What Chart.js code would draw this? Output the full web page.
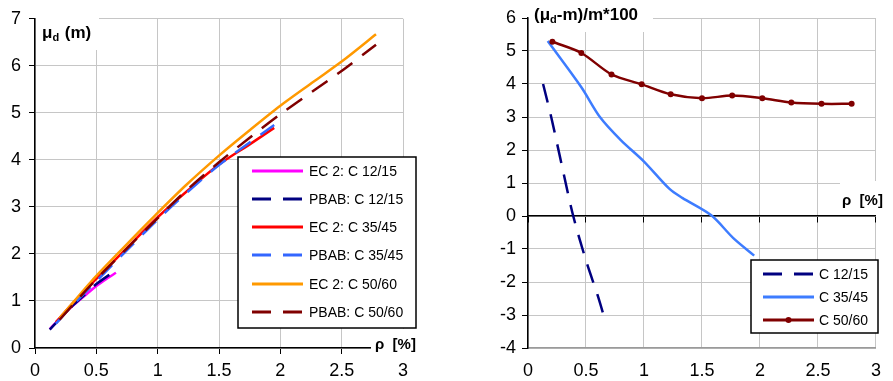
<!DOCTYPE html>
<html><head><meta charset="utf-8">
<script src="https://cdn.jsdelivr.net/npm/chart.js@4"></script>
<style>
html,body{margin:0;padding:0;background:#fff;width:893px;height:381px;overflow:hidden;}
#c1{position:absolute;left:0;top:0;}
#c2{position:absolute;left:440px;top:0;}
</style></head><body>
<canvas id="c1" width="440" height="381"></canvas>
<canvas id="c2" width="453" height="381"></canvas>
<script>
// ---- Left chart data: mu_d (m) vs rho [%] ----
const rhoC12 = [0.12, 0.2, 0.3, 0.4, 0.5, 0.6, 0.66];
const ec2C12 = [0.40, 0.62, 0.88, 1.10, 1.32, 1.50, 1.60];
const rhoPbabC12 = [0.12, 0.2, 0.3, 0.4, 0.5, 0.62];
const pbabC12 = [0.39, 0.61, 0.88, 1.12, 1.36, 1.58];

const rhoC35 = [0.17, 0.3, 0.5, 0.75, 1.0, 1.25, 1.5, 1.75, 1.95];
const ec2C35 = [0.55, 0.93, 1.47, 2.13, 2.78, 3.36, 3.90, 4.33, 4.68];
const pbabC35 = [0.52, 0.89, 1.42, 2.08, 2.73, 3.33, 3.89, 4.37, 4.74];

const rhoC50 = [0.2, 0.46, 0.72, 0.98, 1.23, 1.5, 1.75, 2.0, 2.27, 2.53, 2.78];
const ec2C50 = [0.63, 1.42, 2.13, 2.82, 3.46, 4.09, 4.63, 5.15, 5.66, 6.15, 6.67];
const pbabC50 = [0.60, 1.35, 2.04, 2.71, 3.34, 3.95, 4.47, 4.97, 5.47, 5.95, 6.45];

// ---- Right chart data: (mu_d - m)/m*100 vs rho [%] ----
const rhoD12 = [0.13, 0.2, 0.3, 0.39, 0.5, 0.6, 0.66];
const dev12 = [4.0, 3.0, 1.4, 0.0, -1.35, -2.4, -3.1];
const rhoD35 = [0.17, 0.46, 0.62, 0.8, 1.0, 1.22, 1.33, 1.58, 1.77, 1.95];
const dev35 = [5.3, 3.9, 3.0, 2.3, 1.65, 0.82, 0.55, 0.02, -0.67, -1.2];
const rhoD50 = [0.21, 0.46, 0.72, 0.98, 1.23, 1.5, 1.76, 2.02, 2.27, 2.53, 2.79];
const dev50 = [5.28, 4.94, 4.29, 3.99, 3.69, 3.57, 3.65, 3.57, 3.44, 3.40, 3.40];

const leftLabels = ['EC 2: C 12/15', 'PBAB: C 12/15', 'EC 2: C 35/45', 'PBAB: C 35/45', 'EC 2: C 50/60', 'PBAB: C 50/60'];
const rightLabels = ['C 12/15', 'C 35/45', 'C 50/60'];
const xTicksStep = 0.5;

const FONT = "'Liberation Sans', Arial, sans-serif";
const GRID = '#c6c6c6';
const DASH = [19, 12];

function pts(xs, ys) { return xs.map((x, i) => ({ x: x, y: ys[i] })); }
const fmt = v => String(Math.round(v * 10) / 10);

function lineDs(label, xs, ys, color, dashed, order) {
  return {
    label: label, data: pts(xs, ys), showLine: true, borderColor: color, backgroundColor: color,
    borderWidth: 2.5, borderDash: dashed ? DASH : [], pointRadius: 0, tension: 0.3, order: order,
    borderCapStyle: 'butt'
  };
}

function drawLegend(ctx, chart, box, rowsY, x1, x2, tx) {
  ctx.save();
  ctx.fillStyle = '#fff';
  ctx.fillRect(box[0], box[1], box[2] - box[0], box[3] - box[1]);
  ctx.strokeStyle = '#000'; ctx.lineWidth = 1.5;
  ctx.strokeRect(box[0], box[1], box[2] - box[0], box[3] - box[1]);
  chart.data.datasets.forEach((ds, i) => {
    const y = rowsY[i];
    ctx.strokeStyle = ds.borderColor; ctx.lineWidth = 3;
    ctx.setLineDash(ds.borderDash || []);
    ctx.beginPath(); ctx.moveTo(x1, y); ctx.lineTo(x2, y); ctx.stroke();
    ctx.setLineDash([]);
    if (ds.pointRadius > 0) {
      ctx.fillStyle = ds.borderColor;
      ctx.beginPath(); ctx.arc((x1 + x2) / 2, y, 3, 0, Math.PI * 2); ctx.fill();
    }
    ctx.fillStyle = '#000'; ctx.font = '14px ' + FONT; ctx.textBaseline = 'middle';
    ctx.fillText(ds.label, tx, y + 1);
  });
  ctx.restore();
}

const decorLeft = {
  id: 'decorLeft',
  afterDraw(chart) {
    const ctx = chart.ctx;
    ctx.save();
    ctx.fillStyle = '#fff';
    ctx.fillRect(36, 13, 63, 37);
    ctx.fillRect(371, 329, 52, 28);
    ctx.fillStyle = '#000'; ctx.textBaseline = 'alphabetic';
    ctx.font = 'bold 17px ' + FONT;
    ctx.fillText('\u03bc', 42, 38);
    ctx.font = 'bold 11px ' + FONT;
    ctx.fillText('d', 52.5, 41);
    ctx.font = 'bold 17px ' + FONT;
    ctx.fillText(' (m)', 60, 38);
    ctx.font = 'bold 15px ' + FONT;
    ctx.fillText('\u03c1  [%]', 375, 349);
    ctx.restore();
    drawLegend(ctx, chart, [238, 157, 416, 328], [171, 199, 227, 255, 284, 312], 252, 303, 309);
  }
};

const decorRight = {
  id: 'decorRight',
  afterDraw(chart) {
    const ctx = chart.ctx;
    ctx.save();
    ctx.fillStyle = '#fff';
    ctx.fillRect(89, 0, 124, 32);
    ctx.fillRect(400, 181, 53, 34);
    ctx.fillStyle = '#000'; ctx.textBaseline = 'alphabetic';
    ctx.font = 'bold 17px ' + FONT;
    ctx.fillText('(\u03bc', 94, 20);
    let w = ctx.measureText('(\u03bc').width;
    ctx.font = 'bold 11px ' + FONT;
    ctx.fillText('d', 94 + w, 23);
    let w2 = ctx.measureText('d').width;
    ctx.font = 'bold 17px ' + FONT;
    ctx.fillText('-m)/m*100', 94 + w + w2, 20);
    ctx.font = 'bold 15px ' + FONT;
    ctx.fillText('\u03c1  [%]', 402, 205);
    ctx.restore();
    drawLegend(ctx, chart, [311, 260, 438, 333], [274, 297, 320], 323, 374, 379);
  }
};

const tickFont = { family: FONT, size: 18 };

new Chart(document.getElementById('c1'), {
  type: 'scatter',
  data: {
    datasets: [
      lineDs(leftLabels[0], rhoC12, ec2C12, '#ff00ff', false, 5),
      lineDs(leftLabels[1], rhoPbabC12, pbabC12, '#000080', true, 4),
      lineDs(leftLabels[2], rhoC35, ec2C35, '#ff0000', false, 3),
      lineDs(leftLabels[3], rhoC35, pbabC35, '#3366ff', true, 2),
      lineDs(leftLabels[4], rhoC50, ec2C50, '#ff9900', false, 1),
      lineDs(leftLabels[5], rhoC50, pbabC50, '#800000', true, 0)
    ]
  },
  options: {
    responsive: false, animation: false, devicePixelRatio: 1,
    layout: { padding: { left: 0, right: 37, top: 15, bottom: 0 } },
    plugins: { legend: { display: false }, tooltip: { enabled: false } },
    scales: {
      x: {
        type: 'linear', min: 0, max: 3,
        afterFit(s) { s.height = 33; },
        ticks: { stepSize: xTicksStep, font: tickFont, color: '#000', padding: 6, maxRotation: 0, callback: fmt },
        grid: { color: GRID, lineWidth: 1, tickLength: 6, tickColor: '#000' },
        border: { color: '#000', width: 1.5 }
      },
      y: {
        min: 0, max: 7,
        afterFit(s) { s.width = 35; },
        ticks: { stepSize: 1, font: tickFont, color: '#000', padding: 8, callback: fmt },
        grid: { color: GRID, lineWidth: 1, tickLength: 6, tickColor: '#000' },
        border: { color: '#000', width: 1.5 }
      }
    }
  },
  plugins: [decorLeft]
});

const ds50 = lineDs(rightLabels[2], rhoD50, dev50, '#800000', false, 0);
ds50.pointRadius = 3; ds50.pointStyle = 'circle'; ds50.pointBorderWidth = 0;

new Chart(document.getElementById('c2'), {
  type: 'scatter',
  data: {
    datasets: [
      lineDs(rightLabels[0], rhoD12, dev12, '#000080', true, 2),
      lineDs(rightLabels[1], rhoD35, dev35, '#3d7cff', false, 1),
      ds50
    ]
  },
  options: {
    responsive: false, animation: false, devicePixelRatio: 1,
    layout: { padding: { left: 0, right: 6, top: 18, bottom: 0 } },
    plugins: { legend: { display: false }, tooltip: { enabled: false } },
    scales: {
      x: {
        type: 'linear', min: 0, max: 3,
        afterFit(s) { s.height = 33; },
        ticks: { stepSize: xTicksStep, font: tickFont, color: '#000', padding: 12, maxRotation: 0, callback: fmt },
        grid: { color: GRID, lineWidth: 1, drawTicks: false },
        border: { color: '#9a9a9a', width: 1.5 }
      },
      x0: {
        axis: 'x', type: 'linear', min: 0, max: 3, position: { y: 0 },
        ticks: { stepSize: xTicksStep, display: false },
        grid: { drawOnChartArea: false, drawTicks: true, tickLength: 6, tickColor: '#000' },
        border: { color: '#000', width: 1.5 }
      },
      y: {
        min: -4, max: 6,
        afterFit(s) { s.width = 88; },
        ticks: { stepSize: 1, font: tickFont, color: '#000', padding: 6, callback: fmt },
        grid: { color: GRID, lineWidth: 1, tickLength: 6, tickColor: '#000' },
        border: { color: '#000', width: 1.5 }
      }
    }
  },
  plugins: [decorRight]
});
</script>
</body></html>
